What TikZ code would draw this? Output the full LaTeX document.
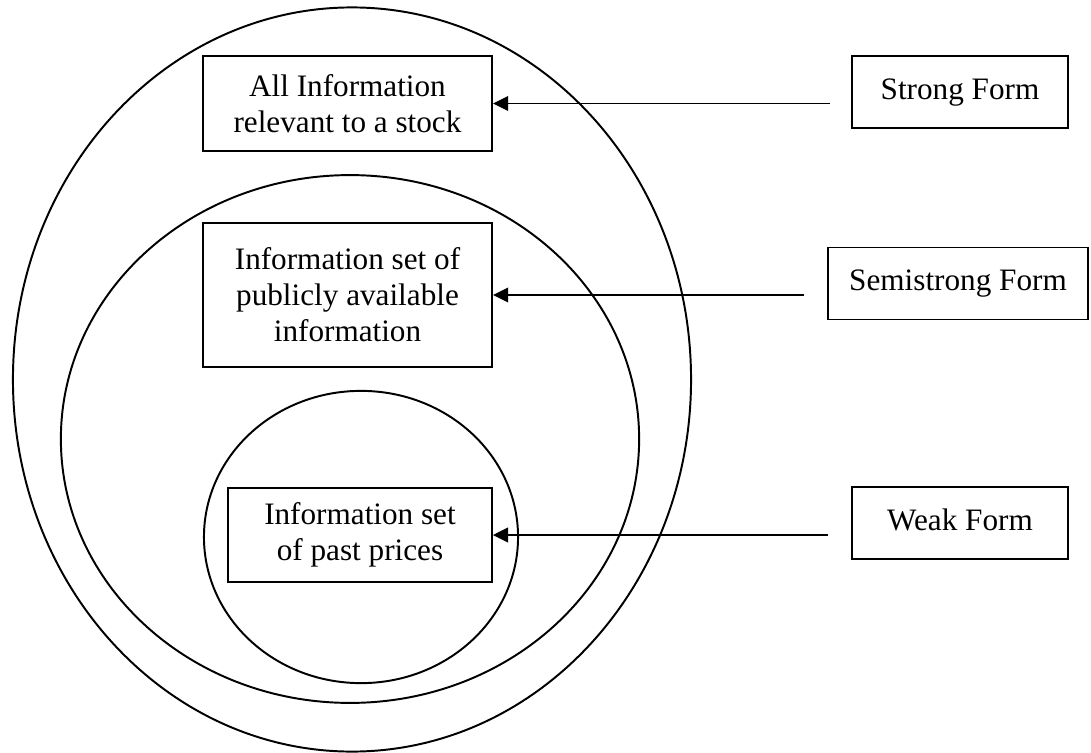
\documentclass[tikz,border=0pt]{standalone}
\usepackage{fontspec}
\setmainfont{Liberation Serif}
\usetikzlibrary{arrows.meta}
\tikzstyle{infobox} = [draw, rectangle, align=center, inner sep=0pt, line width=0.75pt]
\tikzstyle{formbox} = [infobox, minimum width=83pt, minimum height=27.7pt, text height=8pt, text depth=2.6pt]
\tikzstyle{formarrow} = [-{Triangle[length=5.8pt,width=5.6pt]}, line width=0.75pt]

\begin{document}
\begin{tikzpicture}[x=0.3846pt, y=-0.3846pt, font=\fontsize{12}{13.8}\selectfont]
		\useasboundingbox (0,0) rectangle (1091,753);
		% nested information sets
		\draw [line width=0.75pt] (352,379.5) ellipse [x radius=130.4pt, y radius=143.1pt];
		\draw [line width=0.75pt] (350,439) ellipse [x radius=111.2pt, y radius=101.5pt];
		\draw [line width=0.75pt] (361,537) ellipse [x radius=60.4pt, y radius=56.2pt];
		\node (allinfo) [infobox, minimum width=111.2pt, minimum height=36.5pt] at (347.5,103.5) {All Information\\relevant to a stock};
		\node (public) [infobox, minimum width=111.2pt, minimum height=55.4pt] at (347.5,295) {Information set of\\publicly available\\information};
		\node (past) [infobox, minimum width=101.5pt, minimum height=36.2pt] at (360,535) {Information set\\of past prices};
		% forms of efficiency
		\node (strong) [formbox] at (960,92) {Strong Form};
		\node (semistrong) [formbox, minimum width=100pt] at (958,283.5) {Semistrong Form};
		\node (weak) [formbox] at (960,523) {Weak Form};
		\coordinate (strongtail) at (830,103.5);
		\coordinate (semistrongtail) at (804,295);
		\coordinate (weaktail) at (828,535);
		\draw [formarrow] (strongtail) -- (allinfo.east);
		\draw [formarrow] (semistrongtail) -- (public.east);
		\draw [formarrow] (weaktail) -- (past.east);
	\end{tikzpicture}
\end{document}
